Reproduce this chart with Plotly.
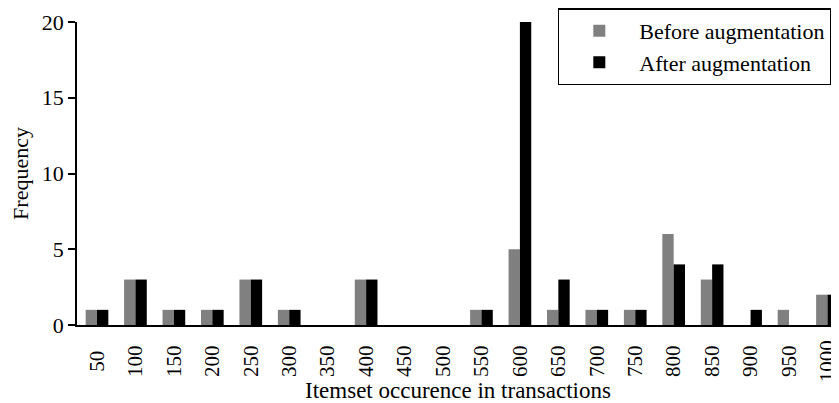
import plotly.graph_objects as go

categories = ["50", "100", "150", "200", "250", "300", "350", "400", "450", "500",
              "550", "600", "650", "700", "750", "800", "850", "900", "950", "1000"]
before = [1, 3, 1, 1, 3, 1, 0, 3, 0, 0, 1, 5, 1, 1, 1, 6, 3, 0, 1, 2]
after = [1, 3, 1, 1, 3, 1, 0, 3, 0, 0, 1, 20, 3, 1, 1, 4, 4, 1, 0, 2]
y_ticks = [0, 5, 10, 15, 20]

FONT = "Liberation Serif"


def centred(label):
    # pad rotated labels so they are centred like the reference (4 digit widths)
    pad = {2: "\u2007", 3: "\u2005", 4: ""}[len(label)]
    return pad + label + pad


# the page body adds an 8 px offset, so the figure is 8 px smaller than the window
fig = go.Figure()
fig.add_trace(go.Bar(x=categories, y=before, name="Before augmentation",
                     marker=dict(color="#808080", line=dict(color="black", width=0))))
fig.add_trace(go.Bar(x=categories, y=after, name="After augmentation",
                     marker=dict(color="black", line=dict(color="black", width=0))))

fig.update_layout(
    width=831, height=395,
    margin=dict(l=69, r=0, t=11, b=78),
    barmode="group", bargap=0.41, bargroupgap=0,
    plot_bgcolor="white", paper_bgcolor="white",
    font=dict(family=FONT, size=22, color="black"),
    showlegend=True,
    legend=dict(x=0.631, y=1.045, xanchor="left", yanchor="top",
                bordercolor="black", borderwidth=1.5, bgcolor="white",
                font=dict(family=FONT, size=22), itemwidth=70),
    xaxis=dict(type="category", range=[-0.52, 19.3], tickangle=-90,
               tickvals=categories, ticktext=[centred(c) for c in categories],
               automargin=False,
               showline=True, linecolor="black", linewidth=1.5,
               ticks="", showgrid=False, zeroline=False,
               ticklabelstandoff=5,
               tickfont=dict(family=FONT, size=21),
               title=dict(text="Itemset occurence in transactions",
                          font=dict(family=FONT, size=23), standoff=0)),
    yaxis=dict(range=[0, 20], tickvals=y_ticks, ticksuffix="\u2007\u2005",
               automargin=False, ticklabeloverflow="allow",
               showline=True, linecolor="black", linewidth=1.5,
               ticks="outside", ticklen=7, tickwidth=1.5, tickcolor="black",
               showgrid=False, zeroline=False,
               tickfont=dict(family=FONT, size=22),
               title=dict(text="Frequency", font=dict(family=FONT, size=22), standoff=8)),
)

fig.write_html("out.html")
